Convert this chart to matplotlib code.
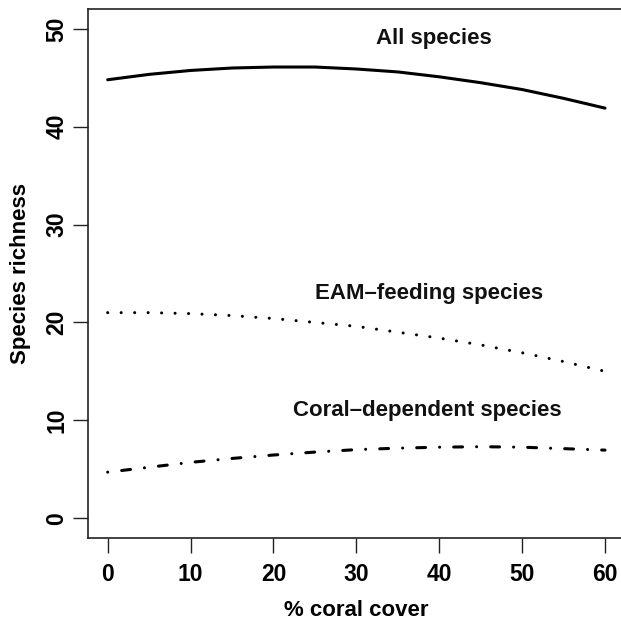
import matplotlib
matplotlib.use("Agg")
import matplotlib.pyplot as plt

plt.rcParams['font.family'] = ['Liberation Sans', 'DejaVu Sans']
plt.rcParams['font.weight'] = 'bold'

coral_cover = [0, 5, 10, 15, 20, 25, 30, 35, 40, 45, 50, 55, 60]
all_species = [44.8, 45.35, 45.75, 46.0, 46.1, 46.1, 45.9, 45.6, 45.1, 44.5, 43.8, 42.9, 41.9]
eam_feeding = [21.0, 21.0, 20.9, 20.7, 20.4, 20.0, 19.6, 19.0, 18.4, 17.7, 16.9, 16.0, 15.0]
coral_dependent = [4.7, 5.2, 5.7, 6.1, 6.45, 6.75, 7.0, 7.15, 7.25, 7.3, 7.25, 7.1, 6.95]

labels = ["All species", "EAM\u2013feeding species", "Coral\u2013dependent species"]
label_x = [39.4, 38.8, 38.6]
label_y = [49.0, 23.0, 11.0]

xticks = [0, 10, 20, 30, 40, 50, 60]
yticks = [0, 10, 20, 30, 40, 50]

fig = plt.figure(figsize=(6.21, 6.21), dpi=100)
W = H = 621.0
left, right = 87.8, 624.9
top, bottom = 9.3, 537.7
ax = fig.add_axes([left / W, 1 - bottom / H, (right - left) / W, (bottom - top) / H])

lw = 2.2
ax.plot(coral_cover, all_species, color='black', lw=lw, solid_capstyle='round')
ax.plot(coral_cover, eam_feeding, color='black', lw=lw, dash_capstyle='round',
        linestyle=(0, (0.01, 4.4)))
ax.plot(coral_cover, coral_dependent, color='black', lw=lw, dash_capstyle='round',
        linestyle=(0, (0.01, 4.6, 2.9, 4.6)))

for t, x, y in zip(labels, label_x, label_y):
    ax.text(x, y, t, ha='center', va='center', fontsize=16, fontweight='bold', color='#111111')

ax.set_xlim(-2.4, 62.4)
ax.set_ylim(-2, 52)
ax.set_xticks(xticks)
ax.set_yticks(yticks)
ax.set_xticklabels([str(v) for v in xticks], fontsize=16.5, fontweight='bold')
ax.set_yticklabels([str(v) for v in yticks], fontsize=16.5, fontweight='bold', rotation=90, va='center')
ax.tick_params(axis='both', direction='out', length=11, width=1.0, color='#222222')
ax.tick_params(axis='x', pad=7.5)
ax.tick_params(axis='y', pad=3)
for s in ax.spines.values():
    s.set_linewidth(1.2)
    s.set_color('#222222')

ax.set_xlabel('% coral cover', fontsize=16, fontweight='bold', labelpad=9.5)
ax.set_ylabel('Species richness', fontsize=16, fontweight='bold', labelpad=10)

fig.savefig('out.png', dpi=100)
